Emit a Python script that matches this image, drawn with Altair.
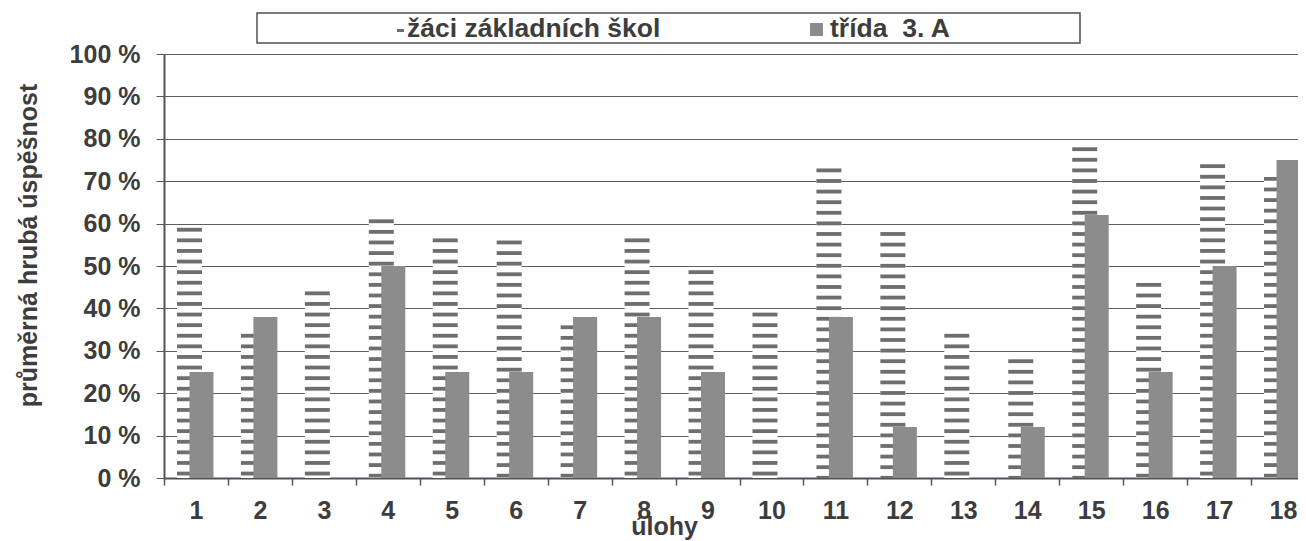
import altair as alt
import pandas as pd

# --- data ---
ulohy = ["1", "2", "3", "4", "5", "6", "7", "8", "9", "10",
         "11", "12", "13", "14", "15", "16", "17", "18"]
zaci = [59, 34, 44, 61, 56.5, 56, 36, 56.5, 49, 39, 73, 58, 34, 28, 78, 46, 74, 71]
trida = [25, 38, 0, 50, 25, 25, 38, 38, 25, 0, 38, 12, 0, 12, 62, 25, 50, 75]
series = ["žáci základních škol", "třída \u00a03. A"]
y_ticks = [0, 10, 20, 30, 40, 50, 60, 70, 80, 90, 100]

df = pd.DataFrame({"uloha": ulohy, "zaci": zaci, "trida": trida})
one = pd.DataFrame({"k": [0]})

FONT = "Liberation Sans"
TXT = "#3d3d3d"
STRIPE = "#6e6e6e"
DARK = "#8c8c8c"

# the last category runs past the right edge of the page, as in the scan
xenc = alt.X(
    "uloha:N", sort=ulohy,
    scale=alt.Scale(range=[0, 1151], paddingInner=0, paddingOuter=0),
    axis=alt.Axis(title="úlohy", labelAngle=0, tickBand="extent", tickSize=7,
                  tickColor="#555555", tickWidth=1.5, labelPadding=13,
                  domainColor="#4a5260", domainWidth=2, grid=False,
                  titleX=500, titleY=48, titleBaseline="middle", titleAlign="center"),
)


def yenc(field):
    return alt.Y(
        field, scale=alt.Scale(domain=[0, 100]),
        axis=alt.Axis(values=y_ticks, labelExpr="datum.value + ' %'",
                      title="průměrná hrubá úspěšnost", titleX=-136, titleY=191,
                      titleBaseline="middle", titleAlign="center",
                      grid=True, gridColor="#5e5e5e", gridWidth=1,
                      tickSize=8, tickColor="#555555", labelPadding=16,
                      domainColor="#555555", domainWidth=2),
    )


white = alt.Chart(df).mark_bar(width=25, xOffset=-6.5, color="white").encode(
    x=xenc, y=yenc("zaci:Q"))

stripes = alt.Chart(df).transform_calculate(
    off="sequence(0, datum.zaci, 2.5)"
).transform_flatten(["off"]).transform_calculate(
    top="datum.zaci - datum.off",
    bot="max(0, datum.zaci - datum.off - 0.9)",
).mark_bar(width=25, xOffset=-6.5, color=STRIPE).encode(
    x=xenc, y=yenc("top:Q"), y2="bot:Q")

dark = alt.Chart(df).mark_bar(width=24, xOffset=5.5, color=DARK).encode(
    x=xenc, y=yenc("trida:Q"))

# legend box (drawn by hand, like the boxed legend of the original)
box = alt.Chart(one).mark_rect(fill="white", stroke="#505050", strokeWidth=1.5).encode(
    x=alt.value(93), x2=alt.value(916), y=alt.value(-41), y2=alt.value(-11))
sym1 = alt.Chart(one).mark_rect(color=STRIPE).encode(
    x=alt.value(233), x2=alt.value(240), y=alt.value(-25), y2=alt.value(-22))
sym2 = alt.Chart(one).mark_rect(color=DARK).encode(
    x=alt.value(646), x2=alt.value(659), y=alt.value(-31), y2=alt.value(-18))
lab1 = alt.Chart(one).mark_text(font=FONT, fontSize=26.5, fontWeight="bold", color=TXT,
                                align="left", baseline="alphabetic").encode(
    x=alt.value(243), y=alt.value(-17), text=alt.value(series[0]))
lab2 = alt.Chart(one).mark_text(font=FONT, fontSize=26.5, fontWeight="bold", color=TXT,
                                align="left", baseline="alphabetic").encode(
    x=alt.value(666), y=alt.value(-17), text=alt.value(series[1]))

chart = alt.layer(white, stripes, dark, box, sym1, sym2, lab1, lab2).properties(
    width=1134, height=424,
    autosize=alt.AutoSizeParams(type="none"),
    padding={"left": 156, "top": 46, "right": 0, "bottom": 62},
).configure_view(stroke=None).configure_axis(
    labelFont=FONT, labelFontSize=25, labelFontWeight="bold", labelColor=TXT,
    titleFont=FONT, titleFontSize=25, titleFontWeight="bold", titleColor=TXT,
)

chart.save("out.html", embed_options={"renderer": "svg", "actions": False})
